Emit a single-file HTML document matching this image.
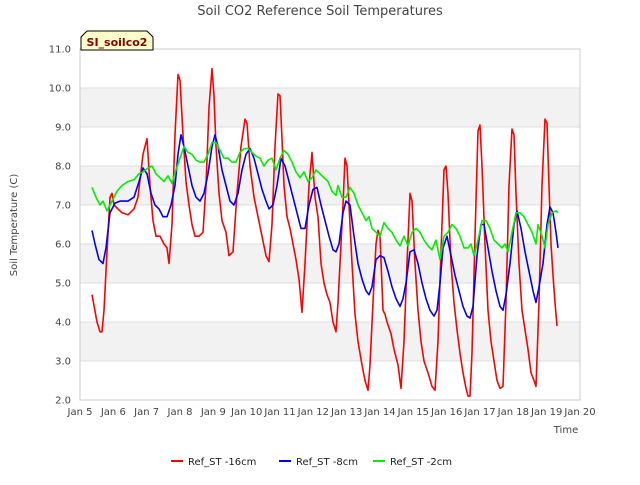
<!DOCTYPE html>
<html><head><meta charset="utf-8"><style>
body{margin:0;background:#fff;font-family:"Liberation Sans",sans-serif}
svg text{font-family:"DejaVu Sans","Liberation Sans",sans-serif}
</style></head><body>
<svg id="c" width="640" height="480" xmlns="http://www.w3.org/2000/svg">
<text x="320" y="15" text-anchor="middle" font-size="13" fill="#444">Soil CO2 Reference Soil Temperatures</text>
<g id="bands"></g><g id="grid"></g>
<rect x="80" y="49" width="500" height="351" fill="none" stroke="#ccc"/>
<g id="ticks"></g><g id="series"></g>
<text transform="translate(17,225) rotate(-90)" text-anchor="middle" font-size="10" fill="#444">Soil Temperature (C)</text>
<text x="566" y="433" text-anchor="middle" font-size="10" fill="#444">Time</text>
<g><path d="M81,50 L81,37 L87,31 L147,31 L153,37 L153,50 Z" fill="#ffffcc" stroke="#000"/>
<text x="117" y="46" text-anchor="middle" font-size="11" font-weight="bold" fill="#8b0000">SI_soilco2</text></g>
<g id="legend"></g>
</svg>
<script>
const xTicks=["Jan 5","Jan 6","Jan 7","Jan 8","Jan 9","Jan 10","Jan 11","Jan 12","Jan 13","Jan 14","Jan 15","Jan 16","Jan 17","Jan 18","Jan 19","Jan 20"];
const yTicks=[2,3,4,5,6,7,8,9,10,11];
const seriesNames=["Ref_ST -16cm","Ref_ST -8cm","Ref_ST -2cm"];
const seriesColors=["#ff0000","#0000ff","#00ee00"];
const red16=[[.36,4.7],[.51,4.0],[.60,3.75],[.66,3.75],[.72,4.3],[.81,5.8],[.90,7.2],[.96,7.3],[1.02,7.0],[1.14,6.9],[1.26,6.8],[1.44,6.75],[1.62,6.9],[1.74,7.2],[1.89,8.3],[2.01,8.7],[2.10,7.5],[2.19,6.6],[2.28,6.2],[2.40,6.2],[2.52,6.0],[2.61,5.9],[2.67,5.5],[2.76,6.5],[2.85,8.8],[2.94,10.35],[3.00,10.2],[3.09,8.8],[3.18,7.6],[3.27,7.0],[3.36,6.5],[3.45,6.2],[3.57,6.2],[3.69,6.3],[3.78,7.5],[3.87,9.5],[3.96,10.5],[4.02,9.8],[4.08,8.5],[4.17,7.3],[4.26,6.6],[4.38,6.3],[4.47,5.7],[4.59,5.8],[4.71,7.3],[4.83,8.5],[4.95,9.2],[5.01,9.1],[5.10,8.0],[5.22,7.2],[5.34,6.7],[5.46,6.2],[5.58,5.7],[5.67,5.55],[5.76,6.5],[5.85,8.5],[5.94,9.85],[6.00,9.8],[6.06,8.7],[6.12,7.5],[6.21,6.7],[6.30,6.4],[6.39,6.0],[6.48,5.6],[6.57,5.1],[6.66,4.25],[6.75,5.5],[6.87,7.5],[6.96,8.35],[7.05,7.2],[7.14,6.7],[7.23,5.5],[7.32,5.0],[7.41,4.7],[7.50,4.5],[7.59,4.0],[7.68,3.75],[7.74,4.5],[7.83,6.0],[7.89,7.0],[7.95,8.2],[8.01,8.0],[8.07,7.0],[8.16,5.5],[8.25,4.2],[8.34,3.5],[8.46,2.9],[8.55,2.5],[8.64,2.25],[8.70,2.9],[8.79,4.5],[8.88,6.0],[8.94,6.35],[9.00,6.2],[9.09,4.3],[9.15,4.2],[9.21,4.0],[9.33,3.7],[9.42,3.3],[9.54,2.9],[9.63,2.3],[9.72,3.5],[9.81,5.5],[9.90,7.3],[9.96,7.1],[10.05,5.5],[10.14,4.3],[10.23,3.5],[10.32,3.0],[10.44,2.7],[10.56,2.35],[10.65,2.25],[10.74,3.5],[10.83,5.8],[10.92,7.9],[10.98,8.0],[11.04,7.3],[11.13,5.5],[11.22,4.5],[11.31,3.8],[11.40,3.2],[11.49,2.7],[11.58,2.3],[11.64,2.1],[11.70,2.1],[11.76,3.2],[11.85,6.2],[11.94,8.9],[12.00,9.05],[12.06,8.0],[12.15,6.0],[12.24,4.3],[12.33,3.5],[12.42,3.0],[12.51,2.5],[12.60,2.3],[12.69,2.35],[12.78,4.5],[12.87,7.5],[12.96,8.95],[13.02,8.8],[13.08,7.3],[13.17,5.5],[13.26,4.3],[13.35,3.8],[13.44,3.3],[13.53,2.7],[13.62,2.5],[13.68,2.35],[13.77,4.5],[13.86,7.5],[13.95,9.2],[14.01,9.1],[14.07,7.5],[14.13,6.0],[14.19,5.2],[14.25,4.5],[14.31,3.9]];
const blue8=[[.36,6.35],[.45,6.0],[.57,5.6],[.69,5.5],[.78,5.9],[.90,6.8],[1.05,7.05],[1.20,7.1],[1.44,7.1],[1.62,7.2],[1.77,7.6],[1.89,7.95],[2.01,7.8],[2.13,7.3],[2.25,7.0],[2.37,6.9],[2.49,6.7],[2.61,6.7],[2.73,7.0],[2.85,7.5],[2.94,8.3],[3.03,8.8],[3.12,8.5],[3.24,8.0],[3.36,7.5],[3.48,7.2],[3.60,7.1],[3.72,7.3],[3.84,7.8],[3.96,8.5],[4.05,8.8],[4.14,8.5],[4.26,7.9],[4.38,7.5],[4.50,7.1],[4.62,7.0],[4.74,7.3],[4.86,7.9],[4.98,8.3],[5.10,8.45],[5.22,8.2],[5.34,7.8],[5.46,7.4],[5.58,7.1],[5.67,6.9],[5.79,7.0],[5.91,7.5],[6.03,8.2],[6.15,8.0],[6.27,7.6],[6.39,7.2],[6.51,6.8],[6.63,6.4],[6.75,6.4],[6.87,7.0],[6.99,7.4],[7.11,7.45],[7.23,7.0],[7.35,6.6],[7.47,6.2],[7.59,5.85],[7.68,5.8],[7.77,6.0],[7.89,6.8],[7.98,7.1],[8.10,7.0],[8.22,6.2],[8.34,5.5],[8.46,5.1],[8.58,4.8],[8.67,4.7],[8.76,4.9],[8.88,5.6],[9.00,5.7],[9.12,5.65],[9.24,5.3],[9.36,4.9],[9.48,4.6],[9.60,4.4],[9.69,4.6],[9.78,5.0],[9.90,5.8],[10.02,5.85],[10.14,5.5],[10.26,5.0],[10.38,4.6],[10.50,4.3],[10.62,4.15],[10.71,4.3],[10.80,5.0],[10.89,5.9],[11.01,6.2],[11.13,5.7],[11.25,5.2],[11.37,4.8],[11.49,4.4],[11.61,4.15],[11.70,4.1],[11.79,4.4],[11.91,5.7],[12.03,6.5],[12.12,6.5],[12.24,5.9],[12.36,5.3],[12.48,4.8],[12.60,4.4],[12.69,4.3],[12.78,4.7],[12.90,5.5],[13.02,6.5],[13.11,6.85],[13.23,6.4],[13.35,5.8],[13.47,5.3],[13.59,4.8],[13.68,4.5],[13.77,4.9],[13.89,5.5],[14.01,6.5],[14.10,6.95],[14.19,6.8],[14.28,6.3],[14.34,5.9]];
const green2=[[.36,7.45],[.48,7.2],[.60,7.0],[.69,7.1],[.81,6.85],[.96,7.1],[1.11,7.35],[1.26,7.5],[1.44,7.6],[1.62,7.65],[1.77,7.8],[1.89,7.85],[2.04,7.95],[2.16,8.0],[2.28,7.8],[2.40,7.7],[2.52,7.6],[2.64,7.75],[2.76,7.55],[2.88,7.9],[3.00,8.2],[3.12,8.5],[3.24,8.35],[3.36,8.3],[3.48,8.15],[3.60,8.1],[3.72,8.1],[3.84,8.3],[3.96,8.6],[4.08,8.6],[4.20,8.4],[4.32,8.2],[4.44,8.2],[4.56,8.1],[4.68,8.1],[4.80,8.35],[4.92,8.45],[5.04,8.45],[5.16,8.35],[5.28,8.25],[5.40,8.2],[5.52,8.0],[5.64,8.15],[5.76,8.2],[5.88,7.9],[6.00,8.2],[6.12,8.4],[6.24,8.3],[6.36,8.1],[6.48,7.85],[6.60,7.7],[6.72,7.85],[6.84,7.6],[6.96,7.7],[7.08,7.9],[7.20,7.8],[7.32,7.7],[7.44,7.6],[7.56,7.35],[7.68,7.25],[7.74,7.5],[7.86,7.2],[7.98,7.2],[8.10,7.45],[8.22,7.3],[8.34,7.0],[8.46,6.8],[8.58,6.6],[8.67,6.7],[8.76,6.4],[8.88,6.3],[9.00,6.2],[9.12,6.55],[9.24,6.4],[9.36,6.3],[9.48,6.1],[9.60,5.95],[9.72,6.2],[9.84,5.95],[9.96,6.3],[10.08,6.4],[10.20,6.3],[10.32,6.1],[10.44,5.95],[10.56,5.85],[10.68,6.1],[10.80,5.6],[10.92,6.2],[11.04,6.3],[11.16,6.5],[11.28,6.4],[11.40,6.2],[11.52,5.9],[11.64,5.9],[11.73,6.0],[11.82,5.7],[11.94,6.1],[12.06,6.6],[12.18,6.6],[12.30,6.4],[12.42,6.1],[12.54,6.0],[12.66,5.9],[12.75,6.0],[12.84,5.8],[12.96,6.3],[13.08,6.8],[13.20,6.8],[13.32,6.7],[13.44,6.5],[13.56,6.3],[13.68,6.0],[13.74,6.5],[13.86,6.2],[13.95,5.9],[14.04,6.5],[14.16,6.8],[14.28,6.85],[14.34,6.8]];
const allSeries=[red16,blue8,green2];
const NS="http://www.w3.org/2000/svg";
const X0=80,X1=580,Y0=400,Y1=49,ymin=2,ymax=11,dmax=15;
const xs=d=>X0+d/dmax*(X1-X0), ys=v=>Y0-(v-ymin)/(ymax-ymin)*(Y0-Y1);
function mk(tag,attrs,parent){const e=document.createElementNS(NS,tag);for(const k in attrs)e.setAttribute(k,attrs[k]);parent.appendChild(e);return e;}
const bands=document.getElementById('bands'),grid=document.getElementById('grid'),ticks=document.getElementById('ticks'),ser=document.getElementById('series'),leg=document.getElementById('legend');
yTicks.forEach((v,i)=>{
 if(i<yTicks.length-1 && i%2==1){const r=mk('rect',{x:X0,y:ys(yTicks[i+1]),width:X1-X0,height:ys(v)-ys(yTicks[i+1]),fill:'#f2f2f2'},bands);
 
 }
 const l=mk('line',{x1:X0,x2:X1,y1:ys(v),y2:ys(v),stroke:'#dddddd'},grid);
 
 
 const t=mk('text',{x:X0-9,y:ys(v)+3.5,'text-anchor':'end','font-size':10,fill:'#444'},ticks);t.textContent=v.toFixed(1);
 
 
});
xTicks.forEach((s,i)=>{
 const t=mk('text',{x:xs(i),y:415,'text-anchor':'middle','font-size':10,fill:'#444'},ticks);t.textContent=s;
 
 
});
allSeries.forEach((data,si)=>{
 const p=mk('polyline',{points:data.map(q=>xs(q[0]).toFixed(1)+','+ys(q[1]).toFixed(1)).join(' '),fill:'none',stroke:seriesColors[si],'stroke-width':1.6,'stroke-linejoin':'round'},ser);
 
 
});
const legX=[171,279,373];
seriesNames.forEach((n,i)=>{
 const g=mk('g',{},leg);
 
 
 mk('line',{x1:legX[i],x2:legX[i]+12,y1:461,y2:461,stroke:seriesColors[i],'stroke-width':2},g);
 const t=mk('text',{x:legX[i]+17,y:465,'font-size':10,fill:'#222'},g);t.textContent=n;
});
</script>
</body></html>
